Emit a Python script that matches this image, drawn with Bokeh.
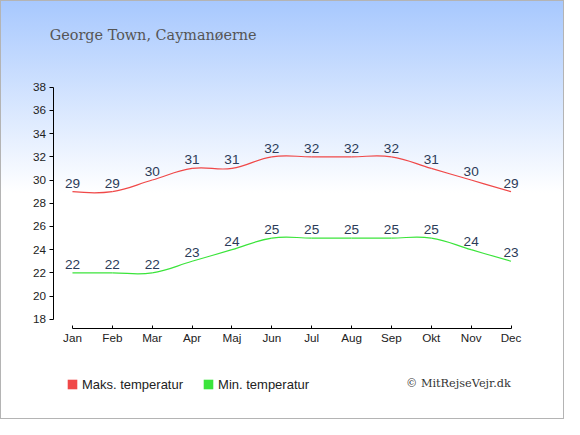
from bokeh.plotting import figure
from bokeh.models import FixedTicker, Label, Legend, LegendItem, Range1d, ColumnDataSource
from bokeh.core.properties import value
from bokeh.embed import file_html
from bokeh.resources import INLINE

# ---- data ----
months = ["Jan", "Feb", "Mar", "Apr", "Maj", "Jun", "Jul", "Aug", "Sep", "Okt", "Nov", "Dec"]
max_temp = [29, 29, 30, 31, 31, 32, 32, 32, 32, 31, 30, 29]
min_temp = [22, 22, 22, 23, 24, 25, 25, 25, 25, 25, 24, 23]
y_ticks = list(range(18, 39, 2))
title_text = "George Town, Caymanøerne"
legend_labels = ["Maks. temperatur", "Min. temperatur"]
credit_text = "© MitRejseVejr.dk"

RED = "#f04848"
GREEN = "#3be43b"
LABEL_COLOR = "#2c3b58"

# ---- layout ----
W, H = 564, 419
SX, SY = W / 580.0, H / 435.0          # design grid 580x435 -> canvas
FL, FR, FT, FB = 28, W, 0, H - 22      # frame in canvas px
X0_REF, X_STEP_REF = 74, 41            # design px of first category, px per category
Y0_REF, Y_STEP_REF = 331, 12.05        # design px of lowest tick, px per degree
Y_LOW = y_ticks[0]
n = len(months)


def dxr(rx):   # design x px -> data x
    return (rx - X0_REF) / X_STEP_REF


def dyr(ry):   # design y px -> data y
    return Y_LOW + (Y0_REF - ry) / Y_STEP_REF


p = figure(width=W, height=H,
           x_range=Range1d(dxr(FL / SX), dxr(FR / SX)),
           y_range=Range1d(dyr(FB / SY), dyr(FT / SY)),
           output_backend="svg", toolbar_location=None, title=None,
           min_border_left=FL, min_border_right=W - FR, min_border_top=FT, min_border_bottom=H - FB,
           background_fill_color=None, border_fill_color=None, outline_line_color=None)
p.styles = {"background": "linear-gradient(to bottom, #a7c8fe 0%, #ffffff 46%, #ffffff 100%)",
            "box-shadow": "inset 0 0 0 1px #b4b4b4"}
p.xgrid.visible = False
p.ygrid.visible = False

xa = p.xaxis[0]
xa.fixed_location = dyr(340.5)
xa.ticker = FixedTicker(ticks=list(range(n)))
xa.major_label_overrides = {i: m for i, m in enumerate(months)}
xa.bounds = (0, n - 1)
xa.major_tick_in = 3
xa.major_tick_out = 0
xa.minor_tick_line_color = None
xa.axis_line_color = "#000000"
xa.major_tick_line_color = "#000000"
xa.major_label_text_font = "Liberation Sans"
xa.major_label_text_font_size = "11.7px"
xa.major_label_text_color = "#222222"
xa.major_label_standoff = 3

ya = p.yaxis[0]
ya.fixed_location = dxr(55)
ya.ticker = FixedTicker(ticks=y_ticks)
ya.bounds = (y_ticks[0], y_ticks[-1])
ya.major_tick_in = 0
ya.major_tick_out = 4
ya.minor_tick_line_color = None
ya.axis_line_color = "#000000"
ya.major_tick_line_color = "#000000"
ya.major_label_text_font = "Liberation Sans"
ya.major_label_text_font_size = "11.7px"
ya.major_label_text_color = "#222222"
ya.major_label_standoff = 4


def spline_segments(vals, d=0.4):
    m = len(vals)
    slope = [0.0] * m
    for i in range(1, m - 1):
        slope[i] = (vals[i + 1] - vals[i - 1]) / 2.0
    seg = dict(x0=[], y0=[], x1=[], y1=[], cx0=[], cy0=[], cx1=[], cy1=[])
    for i in range(m - 1):
        seg["x0"].append(i)
        seg["y0"].append(vals[i])
        seg["x1"].append(i + 1)
        seg["y1"].append(vals[i + 1])
        if i == 0:
            seg["cx0"].append(i)
            seg["cy0"].append(vals[i])
        else:
            seg["cx0"].append(i + d)
            seg["cy0"].append(vals[i] + slope[i] * d)
        if i + 1 == m - 1:
            seg["cx1"].append(i + 1)
            seg["cy1"].append(vals[i + 1])
        else:
            seg["cx1"].append(i + 1 - d)
            seg["cy1"].append(vals[i + 1] - slope[i + 1] * d)
    return ColumnDataSource(seg)


for vals, col in ((max_temp, RED), (min_temp, GREEN)):
    p.bezier(x0="x0", y0="y0", x1="x1", y1="y1", cx0="cx0", cy0="cy0", cx1="cx1", cy1="cy1",
             source=spline_segments(vals), line_color=col, line_width=1.2)
    p.text(x=list(range(n)), y=vals, text=[str(v) for v in vals],
           text_font=value("Liberation Sans"), text_font_size="13.6px", text_color=LABEL_COLOR,
           text_align="center", text_baseline="alphabetic", y_offset=-8.5)

# legend swatch renderers: a single box placed far outside the visible ranges
off = -1000
r1 = p.quad(left=[off], right=[off + 1], top=[off + 1], bottom=[off], fill_color=RED, line_color=None)
r2 = p.quad(left=[off], right=[off + 1], top=[off + 1], bottom=[off], fill_color=GREEN, line_color=None)
legend = Legend(items=[LegendItem(label=legend_labels[0], renderers=[r1]),
                       LegendItem(label=legend_labels[1], renderers=[r2])],
                location=(65.9 - FL, FB - 391.8), orientation="horizontal",
                glyph_width=12, glyph_height=12, label_height=12, label_standoff=4, spacing=19,
                padding=0, margin=0, border_line_color=None, background_fill_alpha=0,
                label_text_font="Liberation Sans", label_text_font_size="13px",
                label_text_color="#222222")
p.add_layout(legend)

p.add_layout(Label(x=dxr(50.7), y=dyr(36), text=title_text, text_font="DejaVu Serif",
                   text_font_size="14.4px", text_color="#555555", text_baseline="alphabetic"))
p.add_layout(Label(x=dxr(417), y=dyr(398), text=credit_text, text_font="DejaVu Serif",
                   text_font_size="11.3px", text_color="#333333", text_baseline="alphabetic"))

open("out.html", "w").write(file_html(p, INLINE))
